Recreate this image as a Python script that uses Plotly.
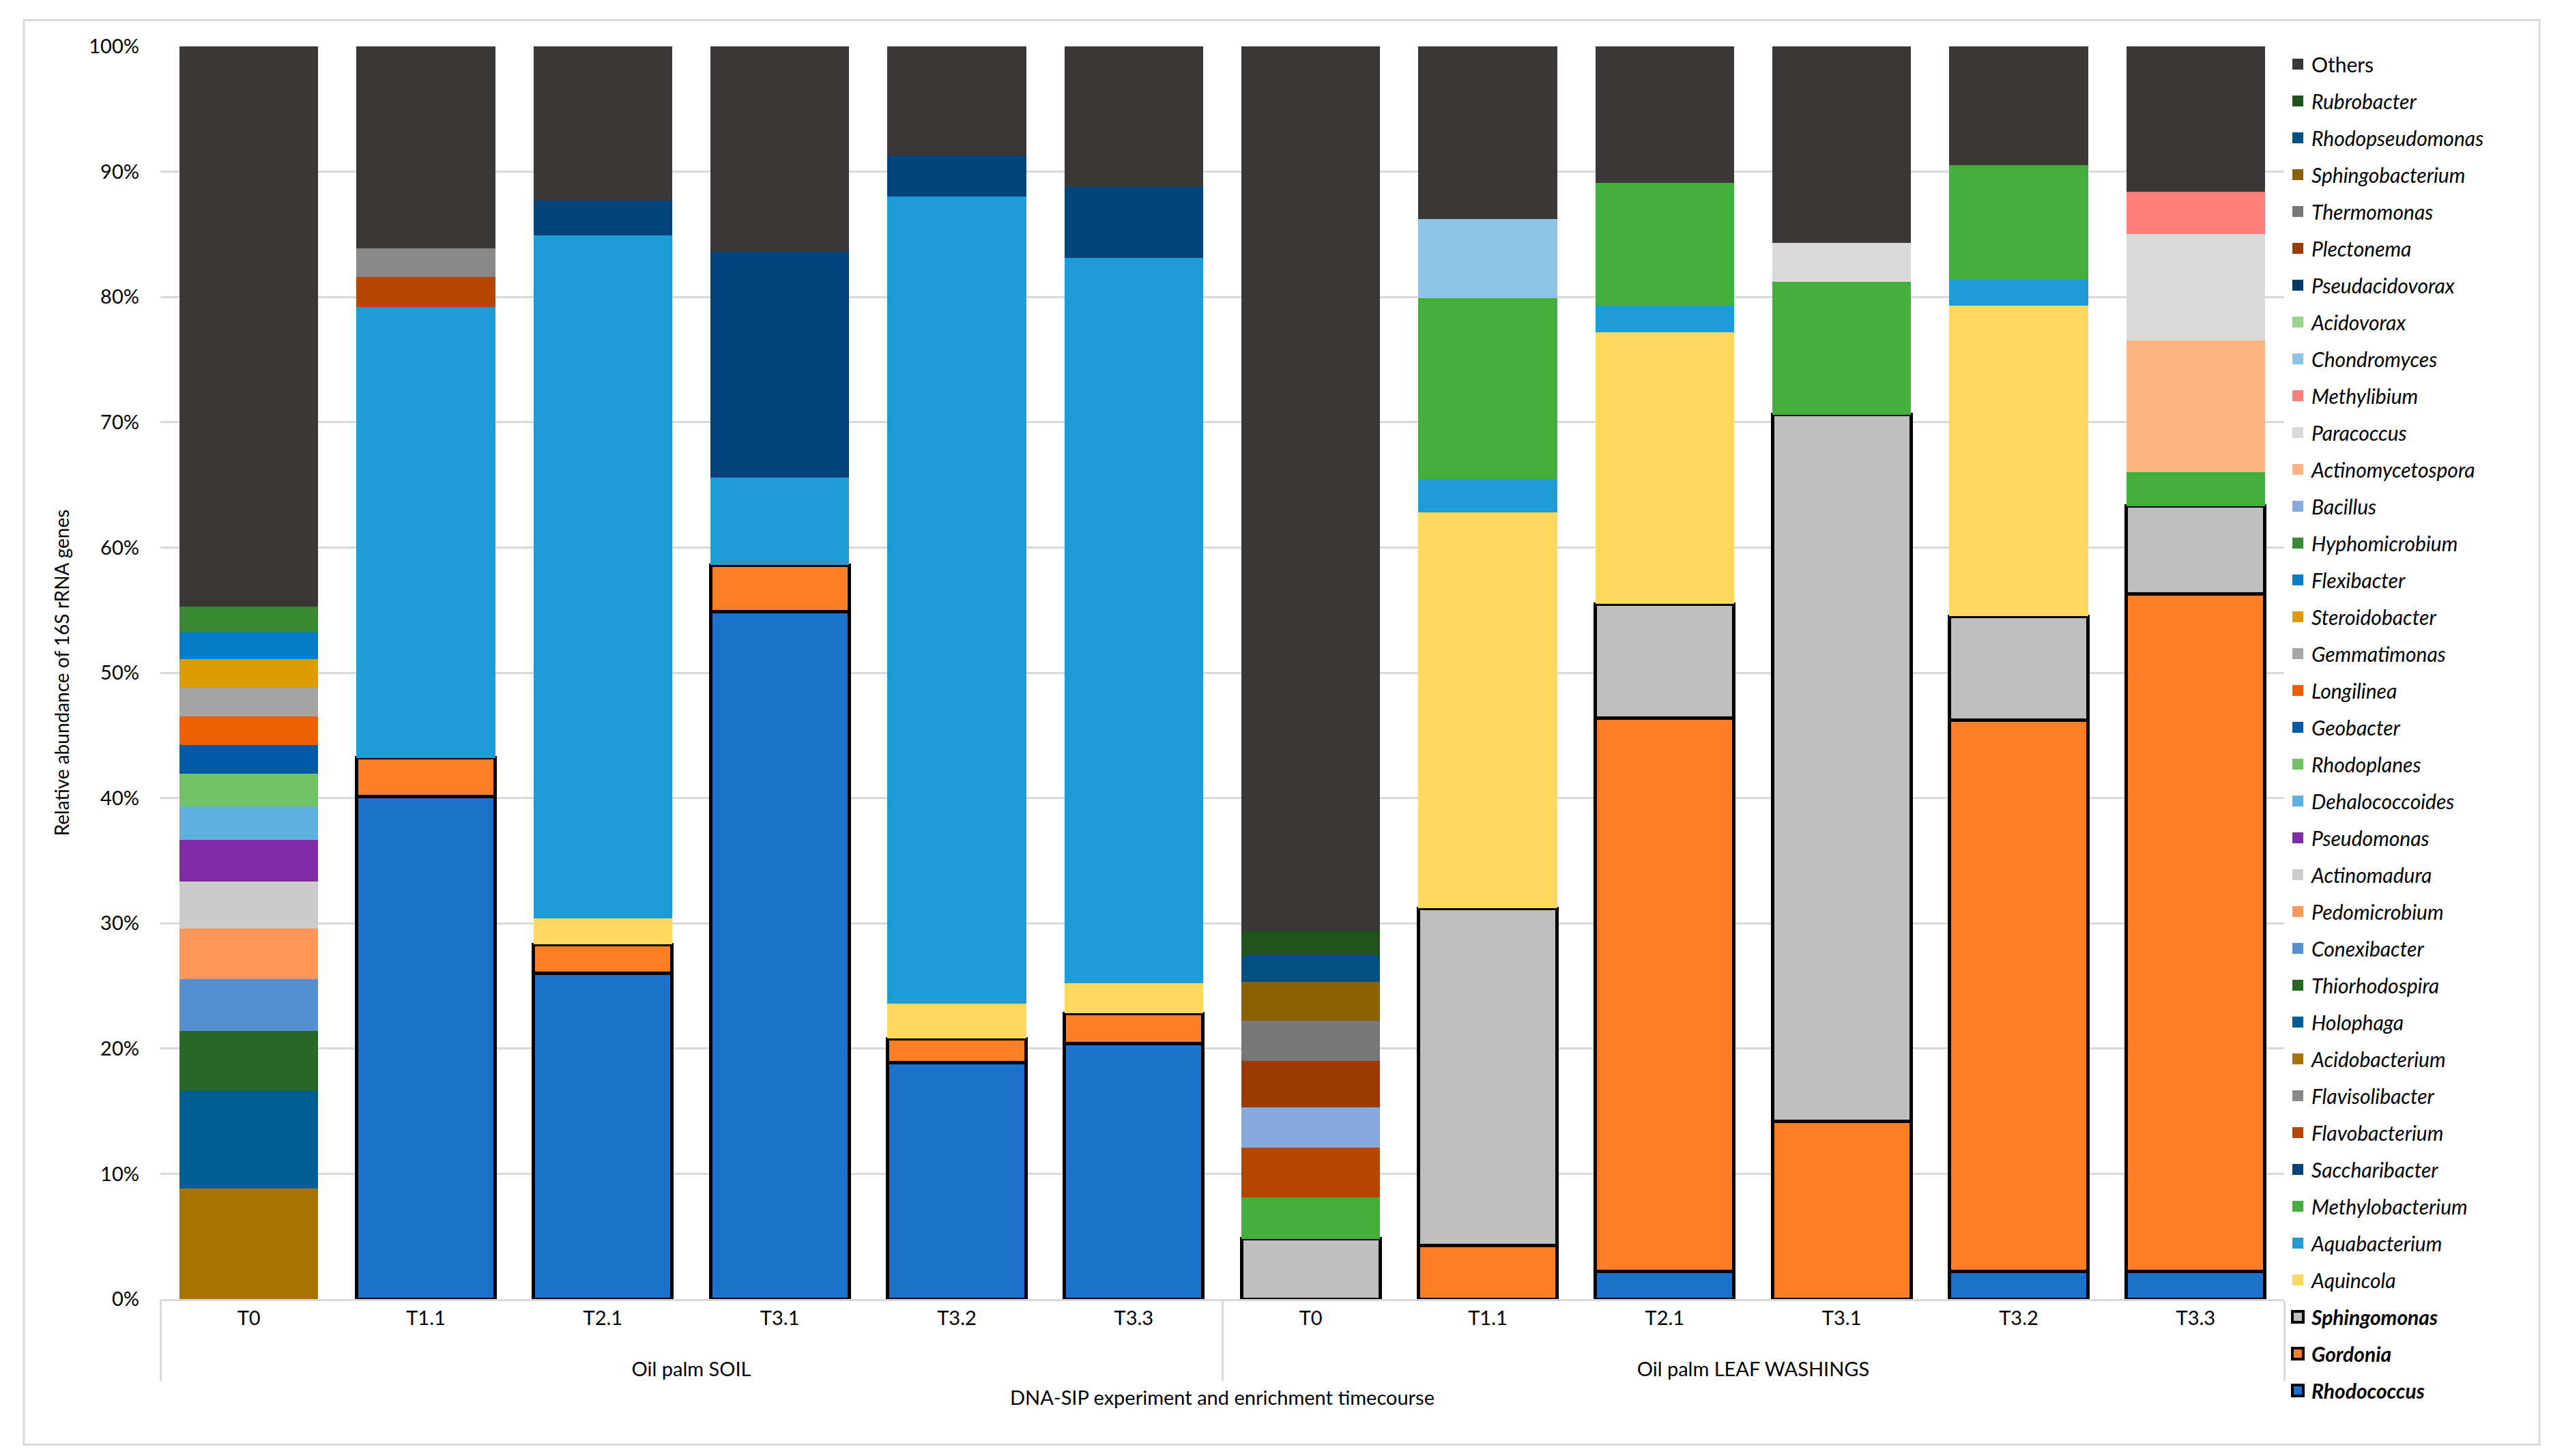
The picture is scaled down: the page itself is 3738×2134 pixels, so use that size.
import plotly.graph_objects as go

# sample groups and timepoints (12 bars)
groups = ["Oil palm SOIL"] * 6 + ["Oil palm LEAF WASHINGS"] * 6
timepoints = ["T0", "T1.1", "T2.1", "T3.1", "T3.2", "T3.3"] * 2

# relative abundance (%) per genus
rhodococcus = [0, 40.1, 26.0, 54.9, 18.9, 20.4, 0, 0, 2.2, 0, 2.2, 2.2]
gordonia = [0, 3.1, 2.3, 3.7, 1.9, 2.4, 0, 4.3, 44.2, 14.2, 44.0, 54.1]
sphingomonas = [0, 0, 0, 0, 0, 0, 4.8, 26.9, 9.1, 56.4, 8.3, 7.0]
aquincola = [0, 0, 2.1, 0, 2.8, 2.4, 0, 31.6, 21.7, 0, 24.8, 0]
aquabacterium = [0, 36.0, 54.5, 7.0, 64.4, 57.9, 0, 2.6, 2.1, 0, 2.1, 0]
methylobacterium = [0, 0, 0, 0, 0, 0, 3.3, 14.5, 9.8, 10.6, 9.1, 2.7]
saccharibacter = [0, 0, 2.8, 18.0, 3.3, 5.7, 0, 0, 0, 0, 0, 0]
flavobacterium = [0, 2.4, 0, 0, 0, 0, 4.0, 0, 0, 0, 0, 0]
flavisolibacter = [0, 2.3, 0, 0, 0, 0, 0, 0, 0, 0, 0, 0]
acidobacterium = [8.82, 0, 0, 0, 0, 0, 0, 0, 0, 0, 0, 0]
holophaga = [7.80, 0, 0, 0, 0, 0, 0, 0, 0, 0, 0, 0]
thiorhodospira = [4.76, 0, 0, 0, 0, 0, 0, 0, 0, 0, 0, 0]
conexibacter = [4.16, 0, 0, 0, 0, 0, 0, 0, 0, 0, 0, 0]
pedomicrobium = [4.06, 0, 0, 0, 0, 0, 0, 0, 0, 0, 0, 0]
actinomadura = [3.74, 0, 0, 0, 0, 0, 0, 0, 0, 0, 0, 0]
pseudomonas = [3.33, 0, 0, 0, 0, 0, 0, 0, 0, 0, 0, 0]
dehalococcoides = [2.68, 0, 0, 0, 0, 0, 0, 0, 0, 0, 0, 0]
rhodoplanes = [2.59, 0, 0, 0, 0, 0, 0, 0, 0, 0, 0, 0]
geobacter = [2.29, 0, 0, 0, 0, 0, 0, 0, 0, 0, 0, 0]
longilinea = [2.29, 0, 0, 0, 0, 0, 0, 0, 0, 0, 0, 0]
gemmatimonas = [2.28, 0, 0, 0, 0, 0, 0, 0, 0, 0, 0, 0]
steroidobacter = [2.29, 0, 0, 0, 0, 0, 0, 0, 0, 0, 0, 0]
flexibacter = [2.12, 0, 0, 0, 0, 0, 0, 0, 0, 0, 0, 0]
hyphomicrobium = [2.07, 0, 0, 0, 0, 0, 0, 0, 0, 0, 0, 0]
bacillus = [0, 0, 0, 0, 0, 0, 3.2, 0, 0, 0, 0, 0]
actinomycetospora = [0, 0, 0, 0, 0, 0, 0, 0, 0, 0, 0, 10.5]
paracoccus = [0, 0, 0, 0, 0, 0, 0, 0, 0, 3.1, 0, 8.5]
methylibium = [0, 0, 0, 0, 0, 0, 0, 0, 0, 0, 0, 3.4]
chondromyces = [0, 0, 0, 0, 0, 0, 0, 6.3, 0, 0, 0, 0]
acidovorax = [0, 0, 0, 0, 0, 0, 0, 0, 0, 0, 0, 0]
pseudacidovorax = [0, 0, 0, 0, 0, 0, 0, 0, 0, 0, 0, 0]
plectonema = [0, 0, 0, 0, 0, 0, 3.7, 0, 0, 0, 0, 0]
thermomonas = [0, 0, 0, 0, 0, 0, 3.2, 0, 0, 0, 0, 0]
sphingobacterium = [0, 0, 0, 0, 0, 0, 3.1, 0, 0, 0, 0, 0]
rhodopseudomonas = [0, 0, 0, 0, 0, 0, 2.1, 0, 0, 0, 0, 0]
rubrobacter = [0, 0, 0, 0, 0, 0, 2.0, 0, 0, 0, 0, 0]
others = [44.72, 16.1, 12.3, 16.4, 8.7, 11.2, 70.6, 13.8, 10.9, 15.7, 9.5, 11.6]

# stacking order, bottom to top: (label, values, colour)
series = [
    ("Rhodococcus", rhodococcus, "#1c72cb"),
    ("Gordonia", gordonia, "#ff7f27"),
    ("Sphingomonas", sphingomonas, "#bfbfbf"),
    ("Aquincola", aquincola, "#ffd95e"),
    ("Aquabacterium", aquabacterium, "#1e9cd8"),
    ("Methylobacterium", methylobacterium, "#44ae3c"),
    ("Saccharibacter", saccharibacter, "#02437c"),
    ("Flavobacterium", flavobacterium, "#b54600"),
    ("Flavisolibacter", flavisolibacter, "#888888"),
    ("Acidobacterium", acidobacterium, "#a77400"),
    ("Holophaga", holophaga, "#005e96"),
    ("Thiorhodospira", thiorhodospira, "#266824"),
    ("Conexibacter", conexibacter, "#5590d3"),
    ("Pedomicrobium", pedomicrobium, "#ff975a"),
    ("Actinomadura", actinomadura, "#cbcbcb"),
    ("Pseudomonas", pseudomonas, "#7f2ca5"),
    ("Dehalococcoides", dehalococcoides, "#5eb0e0"),
    ("Rhodoplanes", rhodoplanes, "#72c365"),
    ("Geobacter", geobacter, "#015aa7"),
    ("Longilinea", longilinea, "#ef6001"),
    ("Gemmatimonas", gemmatimonas, "#a5a5a5"),
    ("Steroidobacter", steroidobacter, "#dd9c00"),
    ("Flexibacter", flexibacter, "#027dca"),
    ("Hyphomicrobium", hyphomicrobium, "#388a32"),
    ("Bacillus", bacillus, "#86aadd"),
    ("Actinomycetospora", actinomycetospora, "#ffb482"),
    ("Paracoccus", paracoccus, "#d9d9d9"),
    ("Methylibium", methylibium, "#ff7f7b"),
    ("Chondromyces", chondromyces, "#8dc4e7"),
    ("Acidovorax", acidovorax, "#98d38c"),
    ("Pseudacidovorax", pseudacidovorax, "#003866"),
    ("Plectonema", plectonema, "#9b3a00"),
    ("Thermomonas", thermomonas, "#777777"),
    ("Sphingobacterium", sphingobacterium, "#8a6200"),
    ("Rhodopseudomonas", rhodopseudomonas, "#004f80"),
    ("Rubrobacter", rubrobacter, "#1f521c"),
    ("Others", others, "#3b3736"),
]
highlighted = {"Rhodococcus", "Gordonia", "Sphingomonas"}

# a leading line break pushes the group labels a little lower, as in Excel
xcats = [["<br>" + g for g in groups], timepoints]

fig = go.Figure()
for i, (name, vals, color) in enumerate(series):
    if name == "Others":
        label = name
    elif name in highlighted:
        label = "<b><i>" + name + "</i></b>"
    else:
        label = "<i>" + name + "</i>"
    edge = 5 if name in highlighted else 0
    y = [v if v > 0 else None for v in vals]
    fig.add_trace(go.Bar(
        x=xcats, y=y, name=label, legendgroup=name, showlegend=False,
        marker=dict(color=color, line=dict(color="black", width=edge)),
    ))
    # legend-only entry with a bigger swatch
    fig.add_trace(go.Scatter(
        x=[[xcats[0][0]], [xcats[1][0]]], y=[None], mode="markers",
        name=label, legendgroup=name, legendrank=len(series) - i,
        hoverinfo="skip",
        marker=dict(symbol="square", size=16, color=color,
                    line=dict(color="black", width=4 if edge else 0)),
    ))

grid = "#d9d9d9"
fig.update_layout(
    width=3738, height=2134,
    barmode="stack", bargap=0.217,
    paper_bgcolor="white", plot_bgcolor="white",
    font=dict(family="Lato, Calibri, sans-serif", size=29, color="black"),
    margin=dict(l=227, r=399, t=60, b=238),
    showlegend=True,
    legend=dict(traceorder="grouped", tracegroupgap=12, maxheight=2100,
                x=1.0, xanchor="left", y=1.0, yanchor="top",
                font=dict(size=30), bgcolor="rgba(0,0,0,0)"),
    shapes=[dict(type="rect", xref="paper", yref="paper",
                 x0=-0.0643, x1=1.1202, y0=-0.1162, y1=1.021,
                 line=dict(color=grid, width=3), layer="below")],
)
fig.update_xaxes(type="multicategory", range=[-0.5, len(timepoints) - 0.5],
                 showline=True, linecolor=grid, linewidth=3,
                 showdividers=True, dividercolor=grid, dividerwidth=3,
                 tickfont=dict(size=29),
                 title=dict(text="DNA-SIP experiment and enrichment timecourse",
                            font=dict(size=29), standoff=18))
fig.update_yaxes(range=[0, 100], dtick=10, ticksuffix="%", showgrid=True,
                 gridcolor=grid, gridwidth=3, zeroline=False, ticks="",
                 ticklabelstandoff=30, tickfont=dict(size=29),
                 title=dict(text="Relative abundance of 16S rRNA genes",
                            font=dict(size=28), standoff=20))

fig.write_html("out.html")
